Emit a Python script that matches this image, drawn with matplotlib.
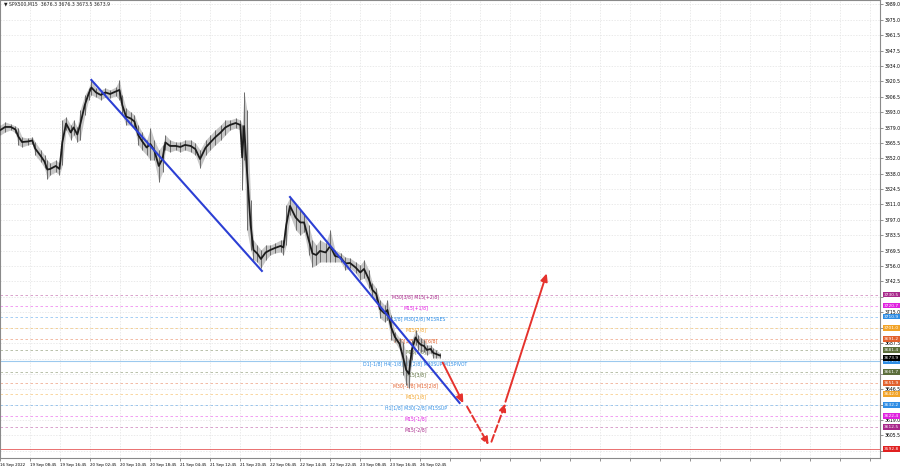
import matplotlib.pyplot as plt

bars = [0, 5, 11, 16, 19, 23, 29, 34, 37, 43, 47, 50, 53, 59, 63, 66, 70, 75, 78, 82,
        85, 90, 94, 97, 102, 107, 112, 117, 123, 127, 130, 134, 139, 143, 147, 151, 156, 160, 164, 169,
        173, 176, 181, 187, 192, 197, 203, 208, 213, 219, 224, 229, 235, 240, 245, 251, 256, 258, 260, 263,
        267, 270, 274, 278, 283, 288, 293, 299, 302, 305, 309, 315, 320, 324, 329, 333, 337, 341, 347, 352,
        357, 363, 368, 373, 379, 384, 388, 393, 397, 401, 405, 410, 413, 417, 421, 426, 430, 433, 436, 439,
        443, 446, 449, 452, 455, 459, 462, 465, 469]
highs = [3881.4, 3884.1, 3882.3, 3880.5, 3878.7, 3870.7, 3869.8, 3870.7, 3866.3, 3859.2, 3854.6, 3850.2, 3847.6, 3850.2, 3847.6, 3885.9, 3888.5, 3881.4, 3885.9, 3879.6,
         3894.8, 3908.1, 3914.4, 3921.5, 3914.4, 3912.6, 3914.4, 3912.6, 3915.2, 3921.5, 3908.1, 3896.5, 3893.0, 3890.3, 3881.4, 3875.2, 3868.1, 3878.7, 3868.1, 3859.2,
         3863.6, 3872.5, 3868.1, 3866.3, 3866.3, 3868.1, 3868.1, 3865.4, 3859.2, 3868.1, 3872.5, 3877.0, 3881.4, 3885.9, 3885.9, 3887.6, 3885.9, 3881.4, 3910.8, 3894.8,
         3814.7, 3779.1, 3774.6, 3770.2, 3774.6, 3774.6, 3776.4, 3779.1, 3779.1, 3810.2, 3817.3, 3810.2, 3805.8, 3803.1, 3792.4, 3779.1, 3774.6, 3779.1, 3776.4, 3788.0,
         3770.2, 3767.5, 3763.9, 3763.0, 3759.5, 3756.8, 3761.3, 3752.4, 3740.8, 3736.3, 3725.7, 3721.2, 3725.7, 3712.3, 3697.2, 3691.8, 3688.3, 3676.7, 3672.3, 3690.1,
         3699.0, 3694.5, 3691.8, 3690.1, 3685.6, 3685.6, 3682.9, 3681.2, 3678.5]
lows = [3872.5, 3875.2, 3877.0, 3874.3, 3863.6, 3861.8, 3863.6, 3864.5, 3854.6, 3848.4, 3843.1, 3833.3, 3836.9, 3839.6, 3836.9, 3845.8, 3877.0, 3868.1, 3872.5, 3866.3,
        3868.1, 3890.3, 3903.7, 3908.1, 3906.3, 3903.7, 3906.3, 3905.4, 3907.2, 3903.7, 3890.3, 3881.4, 3881.4, 3878.7, 3863.6, 3859.2, 3854.6, 3850.2, 3850.2, 3830.7,
        3839.6, 3859.2, 3857.4, 3859.2, 3857.4, 3859.2, 3857.4, 3854.6, 3843.1, 3854.6, 3859.2, 3863.6, 3868.1, 3872.5, 3877.0, 3878.7, 3877.0, 3823.6, 3850.2, 3788.0,
        3770.2, 3761.3, 3759.5, 3754.1, 3761.3, 3765.7, 3767.5, 3768.4, 3765.7, 3774.6, 3801.3, 3788.0, 3783.5, 3786.2, 3765.7, 3755.0, 3756.8, 3759.5, 3759.5, 3759.5,
        3759.5, 3759.5, 3752.4, 3754.1, 3749.7, 3743.5, 3745.2, 3736.3, 3728.3, 3725.7, 3709.6, 3706.1, 3707.9, 3690.1, 3688.3, 3681.2, 3658.9, 3650.0, 3647.3, 3672.3,
        3685.6, 3681.2, 3679.4, 3679.4, 3676.7, 3678.5, 3674.0, 3674.0, 3674.0]

time_labels = ["16 Sep 2022", "19 Sep 08:45", "19 Sep 16:45", "20 Sep 02:45", "20 Sep 10:45",
               "20 Sep 18:45", "21 Sep 04:45", "21 Sep 12:45", "21 Sep 20:45", "22 Sep 06:45",
               "22 Sep 14:45", "22 Sep 22:45", "23 Sep 08:45", "23 Sep 16:45", "26 Sep 02:45"]
price_ticks = [3989.0, 3975.0, 3961.5, 3947.5, 3934.0, 3920.5, 3906.5, 3893.0, 3879.0, 3865.5,
               3852.0, 3838.0, 3824.5, 3811.0, 3797.0, 3783.5, 3769.5, 3756.0, 3742.5, 3728.5,
               3715.0, 3701.0, 3687.5, 3673.5, 3660.0, 3646.5, 3632.5, 3619.0, 3605.5, 3591.5]
# ticks covered by the price tags on the chart are not printed
hidden_ticks = [3728.5, 3701.0, 3673.5, 3660.0, 3632.5, 3591.5]

# murrey levels
levels = [3730.5, 3720.7, 3710.9, 3701.0, 3691.2, 3681.4, 3671.5, 3661.7, 3651.9, 3642.0, 3632.2, 3622.4, 3612.5]
level_names = ["M30[3/8] M15[+2/8]", "M15[+1/8]", "H1[3/8] M30[2/8] M15RES", "M15[7/8]",
               "M30[1/8] M15[6/8]", "M15[5/8]", "D1[-1/8] H4[-1/8] H1[2/8] M30SUP M15PIVOT",
               "M15[3/8]", "M30[-1/8] M15[2/8]", "M15[1/8]", "H1[1/8] M30[-2/8] M15SUP",
               "M15[-1/8]", "M15[-2/8]"]
level_colors = ['#a8288a', '#e020e0', '#2f8de4', '#f2a326', '#e2602c', '#5b6e3b', '#2f8de4',
                '#5b6e3b', '#e2602c', '#f2a326', '#2f8de4', '#e020e0', '#a8288a']
last_price = 3673.9
target_price = 3592.8

# trend lines and projected path
trend1_x = [97, 279]
trend1_y = [3921.5, 3751.5]
trend2_x = [309, 490]
trend2_y = [3817.3, 3634.0]
arrows = [((472, 3669.9), (494, 3633.7), '-'),
          ((498, 3630.7), (521, 3596.6), '--'),
          ((524, 3599.5), (539, 3633.7), '--'),
          ((539, 3635.1), (583, 3749.4), '-')]

fig = plt.figure(figsize=(9, 4.68), dpi=100)
ax = fig.add_axes([0.0, 10 / 468, 880 / 900, 458 / 468])
ax.set_xlim(-0.5, 938.7)
ax.set_ylim(3585.0, 3992.65)

ax.grid(True, color='#e2e2e2', lw=0.5, linestyle=(0, (2, 2)), zorder=0)
ax.set_axisbelow(True)

# level lines
for v, c in zip(levels, level_colors):
    if v == 3671.5:
        ax.axhline(v, color='#9cc9ee', lw=0.8, zorder=1)
    else:
        ax.axhline(v, color=c, lw=0.6, alpha=0.5, linestyle=(0, (3, 3)), zorder=1)
ax.axhline(target_price, color='#e03030', lw=0.6, alpha=0.8, zorder=1)

for v, s, c in zip(levels, level_names, level_colors):
    ax.text(443, v, s, ha='center', va='top', fontsize=3.3, color=c, zorder=2)

# price: wicks in gray, bodies as a dark line through the bar middles
mids = [(h + l) / 2 for h, l in zip(highs, lows)]
ax.fill_between(bars, lows, highs, color='#9a9a9a', lw=0, alpha=0.55, zorder=3)
ax.vlines(bars, lows, highs, color='#6a6a6a', lw=0.7, zorder=3)
ax.plot(bars, mids, color='#1c1c1c', lw=1.3, zorder=3)

ax.plot(trend1_x, trend1_y, color='#2c3fd4', lw=1.5, zorder=4)
ax.plot(trend2_x, trend2_y, color='#2c3fd4', lw=1.5, zorder=4)

for start, end, ls in arrows:
    ax.annotate('', xy=end, xytext=start, zorder=5,
                arrowprops=dict(arrowstyle='-|>,head_length=0.45,head_width=0.2', color='#e5322d',
                                lw=1.4, linestyle=ls, shrinkA=0, shrinkB=0))

# axes
ax.yaxis.tick_right()
ax.set_yticks(price_ticks)
ax.set_yticklabels(['' if t in hidden_ticks else f"{t:.1f}" for t in price_ticks])
xt = list(range(0, 939, 32))
ax.set_xticks(xt)
ax.set_xticklabels(time_labels + [''] * (len(xt) - len(time_labels)))
for lbl in ax.get_xticklabels():
    lbl.set_ha('left')
ax.tick_params(axis='y', labelsize=3.3, length=2, width=0.5, color='#666666', pad=1.5)
ax.tick_params(axis='x', labelsize=2.9, length=2, width=0.5, color='#666666', pad=1.5)
for sp in ax.spines.values():
    sp.set_color('#8a8a8a')
    sp.set_linewidth(0.8)

# price tags on the right
tags = list(zip(levels, level_colors)) + [(last_price, '#000000'), (target_price, '#e02020')]
for v, c in tags:
    ax.text(1.004, v, f"{v:.1f}", transform=ax.get_yaxis_transform(), ha='left', va='center',
            fontsize=3.2, color='white', zorder=6, clip_on=False,
            bbox=dict(boxstyle='square,pad=0.2', fc=c, ec='none'))

ax.text(0.004, 0.997, "\u25bc SPX500,M15  3676.3 3676.3 3673.5 3673.9", transform=ax.transAxes,
        ha='left', va='top', fontsize=3.3, color='#222222')

fig.savefig('out.png', dpi=100)
